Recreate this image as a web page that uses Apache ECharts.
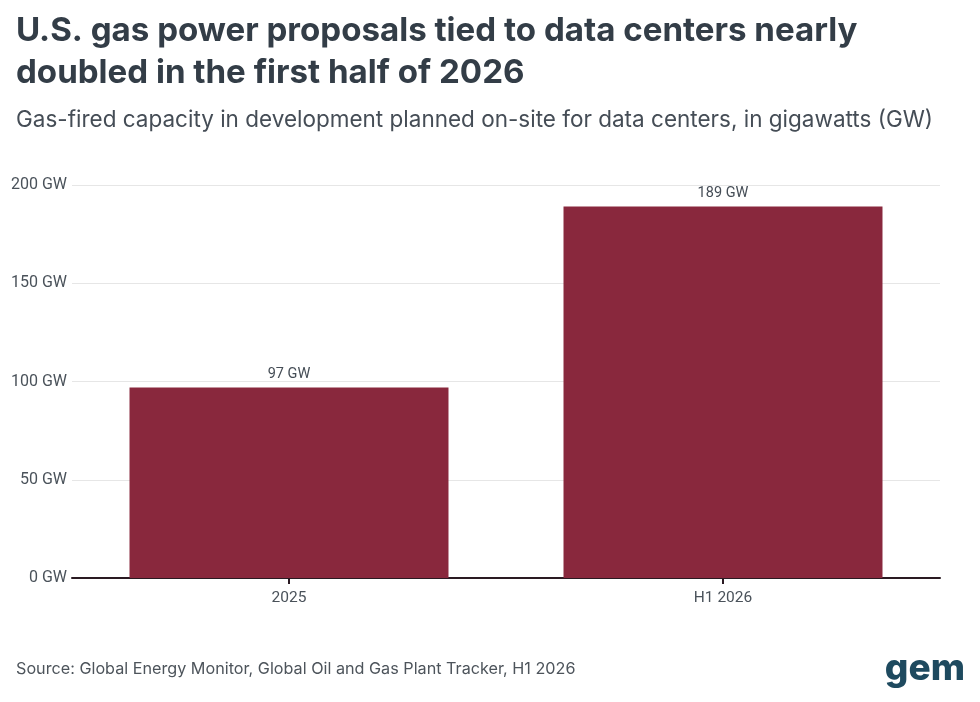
<!DOCTYPE html>
<html>
<head>
<meta charset="utf-8">
<script src="https://cdn.jsdelivr.net/npm/echarts@6/dist/echarts.min.js"></script>
<style>
html,body{margin:0;padding:0;background:#fff;}
#chart{width:980px;height:702px;}
</style>
</head>
<body>
<div id="chart"></div>
<script>
const categories = ['2025', 'H1 2026'];
const capacityGW = [97, 189];
const yTicks = [0, 50, 100, 150, 200];

const titleText = 'U.S. gas power proposals tied to data centers nearly\ndoubled in the first half of 2026';
const subtitleText = 'Gas-fired capacity in development planned on-site for data centers, in gigawatts (GW)';
const sourceText = 'Source: Global Energy Monitor, Global Oil and Gas Plant Tracker, H1 2026';

const chart = echarts.init(document.getElementById('chart'), null, {renderer: 'canvas'});
chart.setOption({
  backgroundColor: '#ffffff',
  animation: false,
  title: [
    {
      text: titleText,
      left: 11, top: 5,
      textStyle: {fontFamily: 'Inter', fontWeight: 700, fontSize: 33.1, color: '#333d47', lineHeight: 42}
    },
    {
      text: subtitleText,
      left: 11, top: 104,
      textStyle: {fontFamily: 'Inter', fontWeight: 400, fontSize: 22.5, color: '#454d56'}
    },
    {
      text: sourceText,
      left: 11, top: 656,
      textStyle: {fontFamily: 'Inter', fontWeight: 400, fontSize: 16.2, color: '#4d545b'}
    },
    {
      text: 'gem',
      right: 10, top: 645,
      textStyle: {fontFamily: 'Inter', fontWeight: 800, fontSize: 37, color: '#1e4a5f'}
    }
  ],
  grid: {left: 72, right: 40, top: 185, bottom: 124, containLabel: false},
  xAxis: {
    type: 'category',
    data: categories,
    axisLine: {show: true, lineStyle: {color: '#2a1a22', width: 2}},
    axisTick: {show: true, alignWithLabel: true, length: 6, lineStyle: {color: '#2a1a22', width: 2}},
    axisLabel: {fontFamily: 'Roboto', fontSize: 15.5, color: '#4a525a', margin: 12}
  },
  yAxis: {
    type: 'value',
    min: 0, max: 200, interval: 50,
    axisLine: {show: false},
    axisTick: {show: false},
    splitLine: {lineStyle: {color: '#e6e6e6', width: 1}},
    axisLabel: {
      fontFamily: 'Roboto', fontSize: 16, color: '#4a525a', margin: 5,
      formatter: function (v) { return yTicks.includes(v) ? v + ' GW' : ''; }
    }
  },
  series: [{
    type: 'bar',
    data: capacityGW,
    barWidth: '73.5%',
    itemStyle: {color: '#89283d'},
    label: {
      show: true, position: 'top', distance: 6,
      fontFamily: 'Roboto', fontSize: 14.5, color: '#454d56',
      formatter: function (p) { return p.value + ' GW'; }
    }
  }]
});
</script>
</body>
</html>
